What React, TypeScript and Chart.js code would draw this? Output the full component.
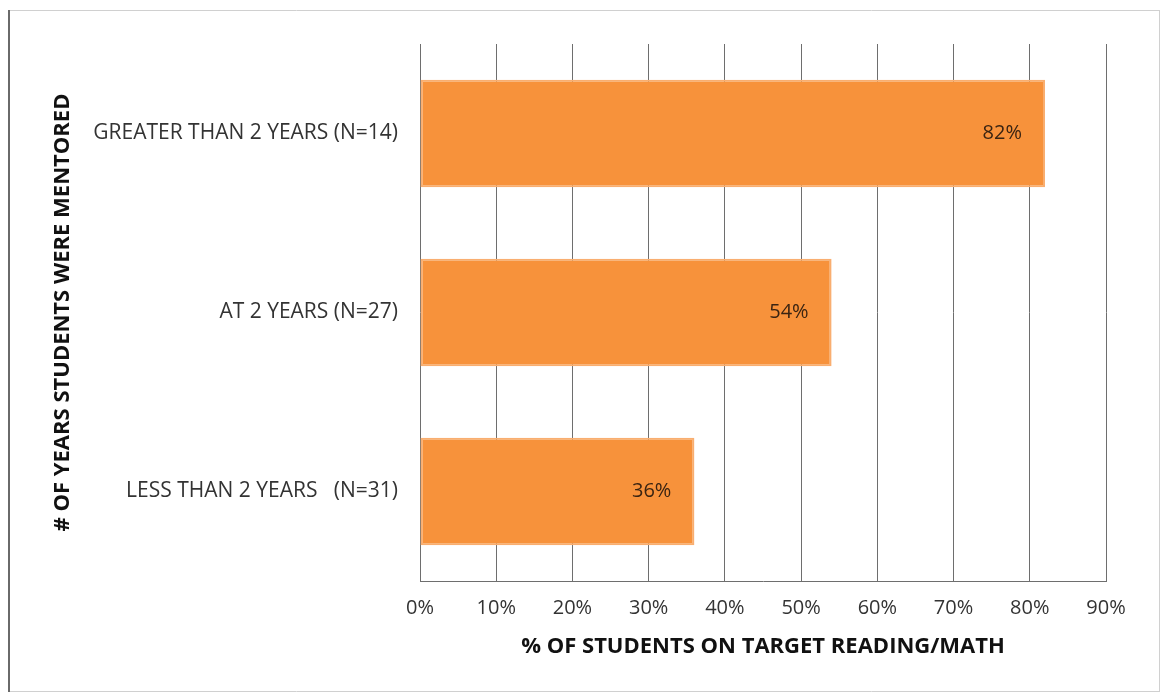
import React, { useEffect, useRef } from "react";
import { Chart, registerables } from "chart.js";

Chart.register(...registerables);

const categories = [
  "GREATER THAN 2 YEARS (N=14)",
  "AT 2 YEARS (N=27)",
  "LESS THAN 2 YEARS   (N=31)",
];
const values = [82, 54, 36];
const xTickMax = 90;
const xTickStep = 10;
const xTitle = "% OF STUDENTS ON TARGET READING/MATH";
const yTitle = "# OF YEARS STUDENTS WERE MENTORED";

const FONT = "'Open Sans', 'DejaVu Sans', sans-serif";

const framePlugin = {
  id: "frame",
  beforeDraw(chart: any) {
    const ctx = chart.ctx;
    ctx.save();
    ctx.fillStyle = "#ffffff";
    ctx.fillRect(0, 0, chart.width, chart.height);
    ctx.lineWidth = 1;
    ctx.strokeStyle = "#d0d0d0";
    ctx.beginPath();
    ctx.moveTo(9, 10.5);
    ctx.lineTo(1159, 10.5);
    ctx.moveTo(1159.5, 10);
    ctx.lineTo(1159.5, 692);
    ctx.moveTo(9, 691.5);
    ctx.lineTo(1159, 691.5);
    ctx.stroke();
    ctx.lineWidth = 2;
    ctx.strokeStyle = "#6a6a6a";
    ctx.beginPath();
    ctx.moveTo(9, 10);
    ctx.lineTo(9, 692);
    ctx.stroke();
    ctx.restore();
  },
};

const labelPlugin = {
  id: "barLabels",
  afterDatasetsDraw(chart: any) {
    const ctx = chart.ctx;
    const meta = chart.getDatasetMeta(0);
    ctx.save();
    ctx.font = `20px ${FONT}`;
    ctx.fillStyle = "#3a2412";
    ctx.textAlign = "right";
    ctx.textBaseline = "middle";
    meta.data.forEach((bar: any, i: number) => {
      ctx.fillText(`${values[i]}%`, bar.x - 23, bar.y);
    });
    ctx.restore();
  },
};

export default function App() {
  const ref = useRef<HTMLCanvasElement>(null);
  useEffect(() => {
    if (!ref.current) return;
    const chart = new Chart(ref.current, {
      type: "bar",
      data: {
        labels: categories,
        datasets: [
          {
            data: values,
            backgroundColor: "#F7923B",
            borderColor: "#F9AE70",
            borderWidth: 2,
            borderSkipped: false,
            barPercentage: 0.6,
            categoryPercentage: 1,
          },
        ],
      },
      options: {
        indexAxis: "y",
        animation: false,
        responsive: false,
        maintainAspectRatio: false,
        layout: { padding: { top: 44, right: 55, left: 0, bottom: 0 } },
        plugins: {
          legend: { display: false },
          tooltip: { enabled: false },
        },
        scales: {
          x: {
            min: 0,
            max: xTickMax,
            afterFit: (s: any) => {
              s.height = 115;
            },
            ticks: {
              stepSize: xTickStep,
              padding: 15,
              color: "#333333",
              font: { family: FONT, size: 20 },
              callback: (v: any) => `${v}%`,
            },
            grid: {
              color: "#6e6e6e",
              lineWidth: 1,
              drawTicks: false,
            },
            border: { display: true, color: "#6e6e6e" },
            title: {
              display: true,
              text: xTitle,
              color: "#111111",
              font: { family: FONT, size: 22, weight: "bold" },
              padding: { top: 0, bottom: 36 },
            },
          },
          y: {
            afterFit: (s: any) => {
              s.width = 420;
            },
            ticks: {
              padding: 22,
              color: "#333333",
              font: { family: FONT, size: 21 },
            },
            grid: { display: false, drawTicks: false },
            border: { display: false },
            title: {
              display: true,
              text: yTitle,
              color: "#111111",
              font: { family: FONT, size: 22, weight: "bold" },
              padding: { top: 50, bottom: 0 },
            },
          },
        },
      },
      plugins: [framePlugin, labelPlugin],
    });
    return () => chart.destroy();
  }, []);
  return (
    <div style={{ position: "absolute", left: 0, top: 0, width: 1161, height: 696 }}>
      <canvas ref={ref} width={1161} height={696} style={{ display: "block" }} />
    </div>
  );
}
